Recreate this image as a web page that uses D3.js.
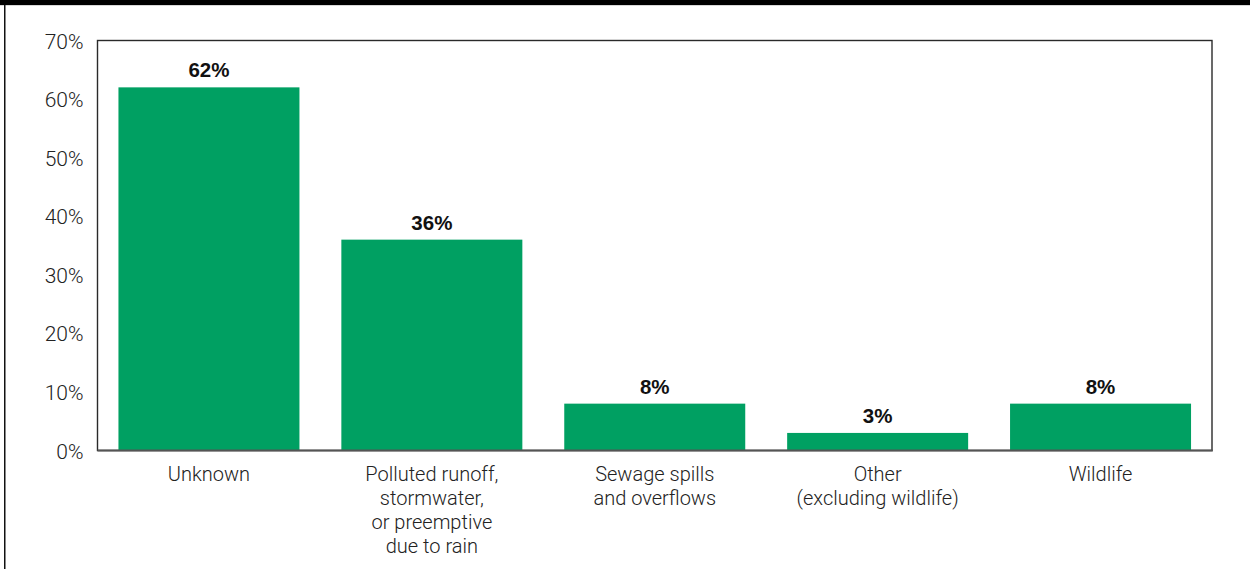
<!DOCTYPE html>
<html>
<head>
<meta charset="utf-8">
<script src="https://cdn.jsdelivr.net/npm/d3@7"></script>
<style>
  html, body { margin: 0; padding: 0; background: #fff; }
  svg { display: block; }
</style>
</head>
<body>
<svg id="chart" width="1250" height="569"></svg>
<script>
// Share of beach advisory days by reported cause
const categories = [
  ["Unknown"],
  ["Polluted runoff,", "stormwater,", "or preemptive", "due to rain"],
  ["Sewage spills", "and overflows"],
  ["Other", "(excluding wildlife)"],
  ["Wildlife"]
];
const values = [62, 36, 8, 3, 8];
const yTicks = [0, 10, 20, 30, 40, 50, 60, 70];

const svg = d3.select("#chart");
const W = 1250, H = 569;
const plot = { left: 97.5, right: 1212, top: 40.5, bottom: 450.5 };

// page frame: heavy top rule with a faint shadow line, thin rule on the left
svg.append("rect").attr("x", 0).attr("y", 0).attr("width", W).attr("height", 5).attr("fill", "#000");
svg.append("rect").attr("x", 0).attr("y", 5).attr("width", W).attr("height", 1).attr("fill", "#d8d8d8");
svg.append("rect").attr("x", 4).attr("y", 5).attr("width", 1.5).attr("height", H).attr("fill", "#111");

const keys = categories.map((c, i) => i);
const x = d3.scaleBand()
  .domain(keys)
  .range([plot.left, plot.right])
  .paddingInner(0.188)
  .paddingOuter(0.094);

const y = d3.scaleLinear()
  .domain([0, 70])
  .range([plot.bottom, plot.top]);

// plot border
svg.append("rect")
  .attr("x", plot.left).attr("y", plot.top)
  .attr("width", plot.right - plot.left).attr("height", plot.bottom - plot.top)
  .attr("fill", "none").attr("stroke", "#2a2a2a").attr("stroke-width", 1.4);

// bars
svg.append("g").selectAll("rect")
  .data(values)
  .join("rect")
  .attr("x", (d, i) => x(i))
  .attr("y", d => y(d))
  .attr("width", x.bandwidth())
  .attr("height", d => y(0) - y(d))
  .attr("fill", "#00A062");

// baseline
svg.append("line")
  .attr("x1", plot.left).attr("x2", plot.right + 0.7)
  .attr("y1", y(0)).attr("y2", y(0))
  .attr("stroke", "#555").attr("stroke-width", 2);

// value labels
svg.append("g").selectAll("text")
  .data(values)
  .join("text")
  .attr("x", (d, i) => x(i) + x.bandwidth() / 2)
  .attr("y", d => y(d) - 10)
  .attr("text-anchor", "middle")
  .attr("font-family", "'Liberation Sans', Arial, sans-serif")
  .attr("font-weight", "bold")
  .attr("font-size", 20.5)
  .attr("fill", "#111")
  .text(d => d + "%");

// y axis
const yAxis = d3.axisLeft(y)
  .tickValues(yTicks)
  .tickSize(0)
  .tickPadding(14)
  .tickFormat(d => d + "%");
const gy = svg.append("g")
  .attr("transform", `translate(${plot.left},0)`)
  .call(yAxis);
gy.select(".domain").remove();
gy.selectAll("text")
  .attr("font-family", "Roboto, 'Liberation Sans', sans-serif")
  .attr("font-weight", 300)
  .attr("font-size", 21)
  .attr("fill", "#222")
  .attr("dy", "0.36em");

// x axis with multi-line category labels
const xAxis = d3.axisBottom(x).tickSize(0).tickFormat(() => "");
const gx = svg.append("g")
  .attr("transform", `translate(0,${plot.bottom})`)
  .call(xAxis);
gx.select(".domain").remove();
gx.selectAll(".tick").each(function(i) {
  const t = d3.select(this).select("text")
    .attr("y", 0).attr("dy", null)
    .attr("font-family", "Roboto, 'Liberation Sans', sans-serif")
    .attr("font-weight", 300)
    .attr("font-size", 20)
    .attr("fill", "#222")
    .attr("text-anchor", "middle");
  categories[i].forEach((line, k) => {
    t.append("tspan").attr("x", 0).attr("y", 30 + k * 24).text(line);
  });
});
</script>
</body>
</html>
